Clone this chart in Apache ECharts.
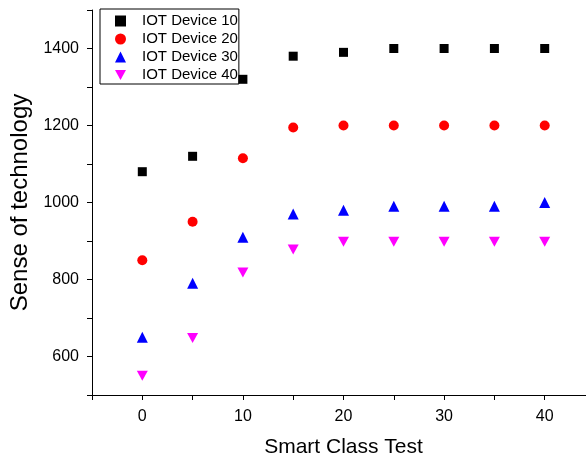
<!DOCTYPE html>
<html>
<head>
<meta charset="utf-8">
<script src="https://cdn.jsdelivr.net/npm/echarts@6/dist/echarts.min.js"></script>
<style>
  html, body { margin: 0; padding: 0; background: #fff; }
  #chart { width: 586px; height: 461px; }
</style>
</head>
<body>
<div id="chart"></div>
<script>
var xValues = [0, 5, 10, 15, 20, 25, 30, 35, 40];
var device10 = [1080, 1120, 1320, 1380, 1390, 1400, 1400, 1400, 1400];
var device20 = [850, 950, 1115, 1195, 1200, 1200, 1200, 1200, 1200];
var device30 = [650, 790, 910, 970, 980, 990, 990, 990, 1000];
var device40 = [550, 648, 818, 878, 898, 898, 898, 898, 898];
var seriesNames = ['IOT Device 10', 'IOT Device 20', 'IOT Device 30', 'IOT Device 40'];

function pairs(ys) {
    var out = [];
    for (var i = 0; i < xValues.length; i++) {
        out.push([xValues[i], ys[i]]);
    }
    return out;
}

var font = 'Liberation Sans, Arial, sans-serif';
var downTriangle = 'path://M0,0 L10,0 L5,9 Z';

var myChart = echarts.init(document.getElementById('chart'));

var option = {
    animation: false,
    textStyle: { fontFamily: font },
    legend: {
        orient: 'vertical',
        left: 100,
        top: 9,
        padding: [3, 1, 0, 15],
        itemGap: 0,
        itemWidth: 11,
        itemHeight: 11,
        borderColor: '#000',
        borderWidth: 1,
        textStyle: { fontSize: 15, lineHeight: 18, color: '#000', fontFamily: font, padding: [0, 0, 0, 11] },
        data: [
            { name: seriesNames[0], icon: 'rect', itemStyle: { color: '#000' } },
            { name: seriesNames[1], icon: 'circle' },
            { name: seriesNames[2], icon: 'triangle' },
            { name: seriesNames[3], icon: downTriangle }
        ]
    },
    grid: { left: 92, top: 10, width: 503, height: 385, outerBoundsMode: 'none' },
    xAxis: {
        type: 'value',
        min: -5,
        max: 45,
        interval: 5,
        name: 'Smart Class Test',
        nameLocation: 'middle',
        nameGap: 42,
        nameTextStyle: { fontSize: 21, color: '#000', fontFamily: font },
        axisLine: { onZero: false, lineStyle: { color: '#000', width: 1 } },
        axisTick: { inside: false, length: 5, lineStyle: { color: '#000' } },
        axisLabel: {
            fontSize: 16, color: '#000', margin: 14, fontFamily: font,
            formatter: function (v) { return (v >= 0 && v % 10 === 0) ? String(v) : ''; }
        },
        splitLine: { show: false }
    },
    yAxis: {
        type: 'value',
        min: 500,
        max: 1500,
        interval: 100,
        name: 'Sense of technology',
        nameLocation: 'middle',
        nameGap: 59,
        nameTextStyle: { fontSize: 24, color: '#000', fontFamily: font },
        axisLine: { show: true, onZero: false, lineStyle: { color: '#000', width: 1 } },
        axisTick: { show: true, inside: false, length: 5, lineStyle: { color: '#000' } },
        axisLabel: {
            fontSize: 16, color: '#000', margin: 13, fontFamily: font,
            formatter: function (v) { return (v % 200 === 0 && v > 500 && v < 1500) ? String(v) : ''; }
        },
        splitLine: { show: false }
    },
    series: [
        { name: seriesNames[0], type: 'scatter', symbol: 'rect', symbolSize: 9, itemStyle: { color: '#000', opacity: 1 }, data: pairs(device10) },
        { name: seriesNames[1], type: 'scatter', symbol: 'circle', symbolSize: 10, itemStyle: { color: '#ff0000', opacity: 1 }, data: pairs(device20) },
        { name: seriesNames[2], type: 'scatter', symbol: 'triangle', symbolSize: 11, itemStyle: { color: '#0000ff', opacity: 1 }, data: pairs(device30) },
        { name: seriesNames[3], type: 'scatter', symbol: downTriangle, symbolSize: [11, 10], itemStyle: { color: '#ff00ff', opacity: 1 }, data: pairs(device40) }
    ]
};

myChart.setOption(option);
</script>
</body>
</html>
